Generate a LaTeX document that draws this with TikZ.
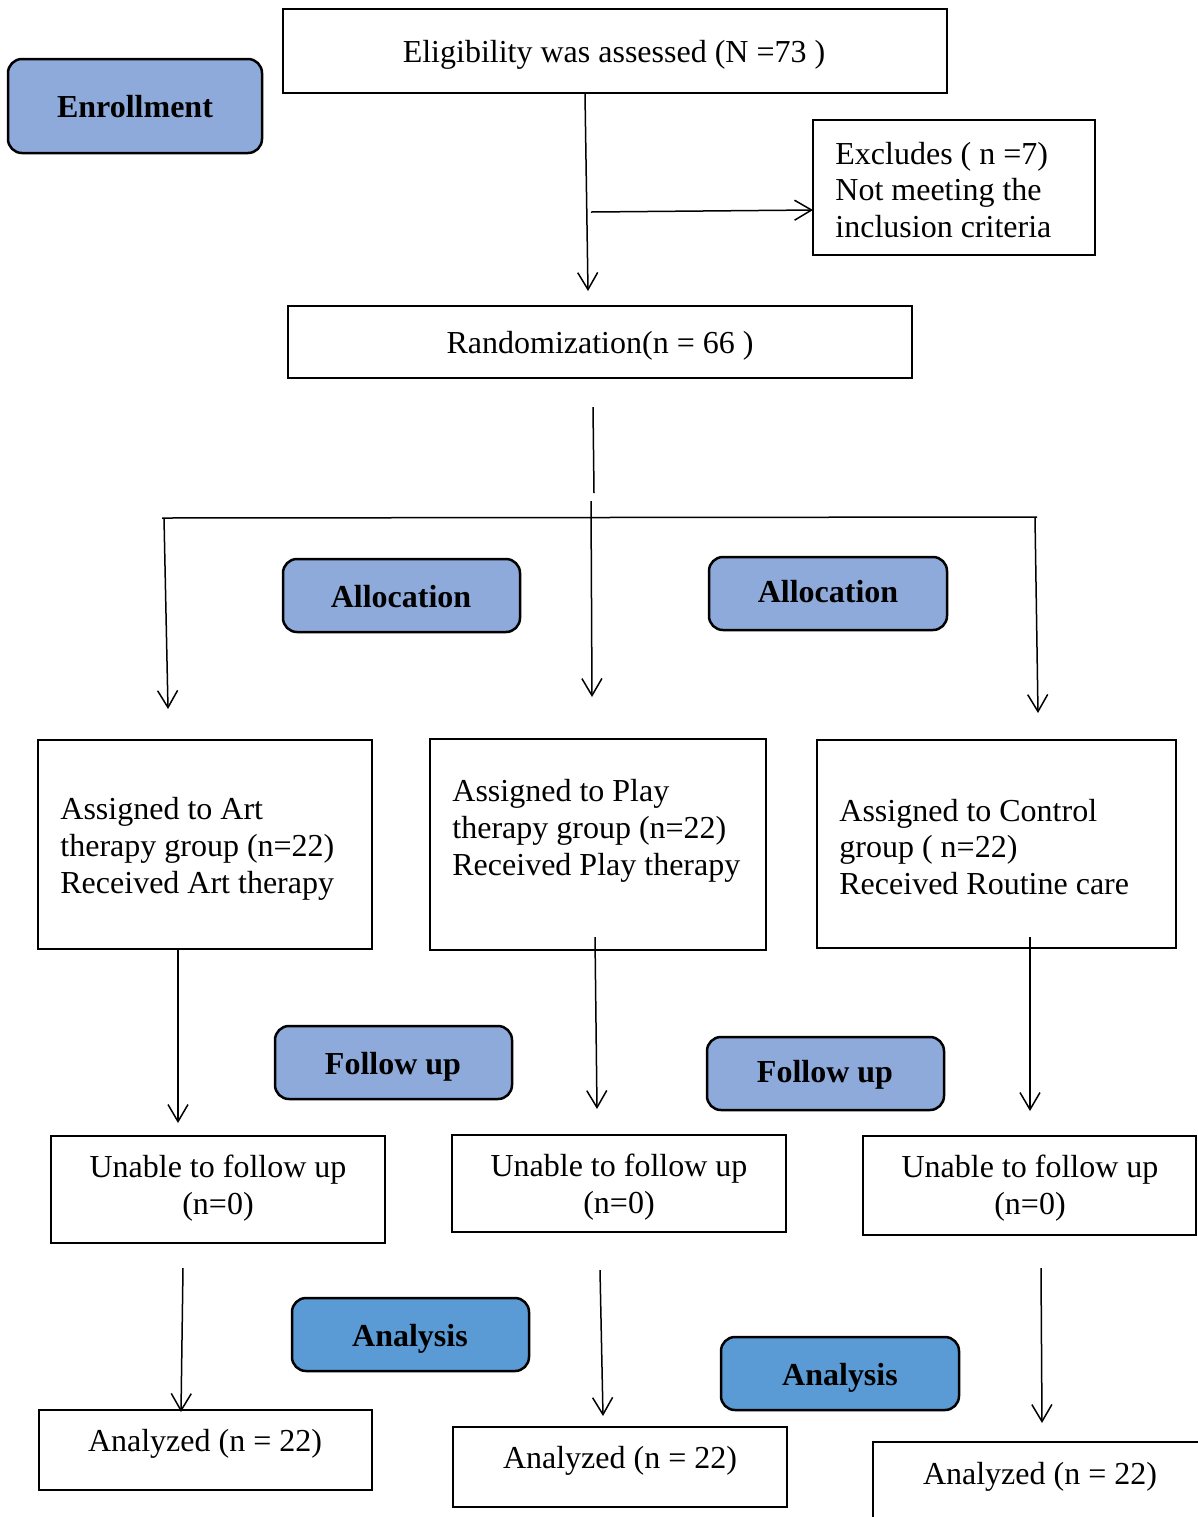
\documentclass[tikz,border=0pt]{standalone}
\usepackage{fontspec}
\setmainfont{Liberation Serif}
\usetikzlibrary{arrows.meta,fit}
\definecolor{lblue}{HTML}{8EAADB}
\definecolor{mblue}{HTML}{5B9BD5}
\tikzset{
 box/.style={draw, line width=1.25pt, inner sep=0pt},
 tag/.style={draw, line width=1.25pt, rounded corners=7pt, inner sep=0pt, fill=lblue},
 ana/.style={tag, fill=mblue},
 txt/.style={font=\fontsize{16pt}{18.4pt}\selectfont, align=left, inner sep=0pt},
 btxt/.style={font=\fontsize{16pt}{18.4pt}\selectfont\bfseries, inner sep=0pt, text height=0.68em, text depth=0.2em},
 arr/.style={line width=0.75pt, -{Straight Barb[length=8.5pt,width=10pt]}},
 ln/.style={line width=0.75pt},
}
\begin{document}
\begin{tikzpicture}[x=0.5pt,y=-0.5pt]
\useasboundingbox (0,0) rectangle (1198,1517);
% top boxes
\node[box, fit={(283,9) (947,93)}] (elig) {};
\node[txt] (eligT) at (614,55) {Eligibility was assessed (N =73 )};
\node[tag, fit={(8,59) (262,153)}] (enroll) {};
\node[btxt] (enrollT) at (135,113) {Enrollment};
\node[box, fit={(813,120) (1095,255)}] (excl) {};
\node[txt, anchor=west] (exclT) at (835,190) {Excludes ( n =7)\\Not meeting the\\inclusion criteria};
\node[box, fit={(288,306) (912,378)}] (rand) {};
\node[txt] (randT) at (600,346) {Randomization(n = 66 )};
% allocation tags
\node[tag, fit={(283,559) (520,632)}] (alloc1) {};
\node[btxt] (alloc1T) at (401,603) {Allocation};
\node[tag, fit={(709,557) (947,630)}] (alloc2) {};
\node[btxt] (alloc2T) at (828,598) {Allocation};
% group boxes
\node[box, fit={(38,740) (372,949)}] (art) {};
\node[txt, anchor=west] (artT) at (60,849) {Assigned to Art\\therapy group (n=22)\\Received Art therapy};
\node[box, fit={(430,739) (766,950)}] (play) {};
\node[txt, anchor=west] (playT) at (452,831) {Assigned to Play\\therapy group (n=22)\\Received Play therapy};
\node[box, fit={(817,740) (1176,948)}] (ctrl) {};
\node[txt, anchor=west] (ctrlT) at (839,847) {Assigned to Control\\group ( n=22)\\Received Routine care};
% follow up tags
\node[tag, fit={(275,1026) (512,1099)}] (fu1) {};
\node[btxt] (fu1T) at (393,1070) {Follow up};
\node[tag, fit={(707,1037) (944,1110)}] (fu2) {};
\node[btxt] (fu2T) at (825,1078) {Follow up};
% unable boxes
\node[box, fit={(51,1136) (385,1243)}] (un1) {};
\node[txt, align=center] (un1T) at (218,1188) {Unable to follow up\\(n=0)};
\node[box, fit={(452,1135) (786,1232)}] (un2) {};
\node[txt, align=center] (un2T) at (619,1187) {Unable to follow up\\(n=0)};
\node[box, fit={(863,1136) (1196,1235)}] (un3) {};
\node[txt, align=center] (un3T) at (1030,1188) {Unable to follow up\\(n=0)};
% analysis tags
\node[ana, fit={(292,1298) (529,1371)}] (an1) {};
\node[btxt] (an1T) at (410,1342) {Analysis};
\node[ana, fit={(721,1337) (959,1410)}] (an2) {};
\node[btxt] (an2T) at (840,1381) {Analysis};
% analyzed boxes
\node[box, fit={(39,1410) (372,1490)}] (az1) {};
\node[txt] (az1T) at (205,1444) {Analyzed (n = 22)};
\node[box, fit={(453,1427) (787,1507)}] (az2) {};
\node[txt] (az2T) at (620,1461) {Analyzed (n = 22)};
\node[box, fit={(873,1442) (1215,1535)}] (az3) {};
\node[txt] (az3T) at (1040,1477) {Analyzed (n = 22)};
% connector coordinates
\coordinate (a1) at (585,94);   \coordinate (a2) at (588,291);
\coordinate (b1) at (591,212);  \coordinate (b2) at (813,210);
\coordinate (c1) at (593,407);  \coordinate (c2) at (594,493);
\coordinate (d1) at (591,501);  \coordinate (d2) at (592,697);
\coordinate (hL) at (162,518);  \coordinate (hR) at (1037,517);
\coordinate (e1) at (164,518);  \coordinate (e2) at (168,709);
\coordinate (f1) at (1035,517); \coordinate (f2) at (1038,713);
\coordinate (g1) at (178,950);  \coordinate (g2) at (178,1123);
\coordinate (h1) at (595,937);  \coordinate (h2) at (597,1109);
\coordinate (i1) at (1030,937); \coordinate (i2) at (1030,1111);
\coordinate (j1) at (183,1268); \coordinate (j2) at (181,1412);
\coordinate (k1) at (600,1270); \coordinate (k2) at (603,1416);
\coordinate (l1) at (1041,1268);\coordinate (l2) at (1042,1423);
% connectors
\draw[arr] (a1) -- (a2);
\draw[arr] (b1) -- (b2);
\draw[ln] (c1) -- (c2);
\draw[arr] (d1) -- (d2);
\draw[ln] (hL) -- (hR);
\draw[arr] (e1) -- (e2);
\draw[arr] (f1) -- (f2);
\draw[arr] (g1) -- (g2);
\draw[arr] (h1) -- (h2);
\draw[arr] (i1) -- (i2);
\draw[arr] (j1) -- (j2);
\draw[arr] (k1) -- (k2);
\draw[arr] (l1) -- (l2);
\end{tikzpicture}
\end{document}
